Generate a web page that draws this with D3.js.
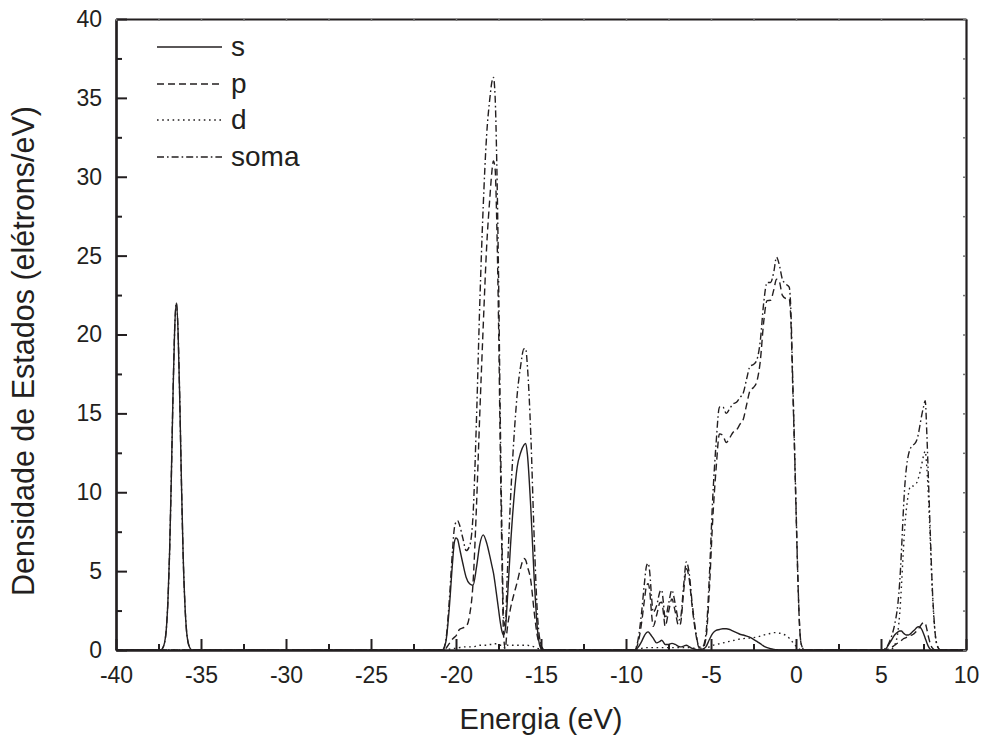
<html>

<head>
    <script src="https://cdn.jsdelivr.net/npm/d3@7"></script>
    <style>
        body {
            margin: 0;
            background: white;
            font-family: "Liberation Sans", Arial, Helvetica, sans-serif;
        }
    </style>
</head>

<body>
    <svg id="DosChart"></svg>
</body>
<script>
    // energia (eV) - grade comum para todas as curvas
    let energia = [
        -40,
        -37.35, -37.25, -37.15, -37.05, -36.95, -36.85, -36.75, -36.65, -36.55, -36.45,
        -36.35, -36.25, -36.15, -36.05, -35.95, -35.85, -35.75, -35.65, -35.55,
        -20.8, -20.6, -20.4, -20.2, -20.1, -20.0, -19.9, -19.8, -19.6, -19.4,
        -19.2, -19.0, -18.8, -18.6, -18.4, -18.2, -18.0, -17.9, -17.8, -17.7,
        -17.6, -17.5, -17.4, -17.3, -17.2, -17.1, -17.0, -16.8, -16.6, -16.4,
        -16.2, -16.0, -15.9, -15.8, -15.6, -15.4, -15.2, -15.0, -14.8,
        -9.5, -9.3, -9.1, -8.9, -8.8, -8.7, -8.6, -8.5, -8.4, -8.2,
        -8.0, -7.9, -7.8, -7.7, -7.5, -7.3, -7.1, -6.9, -6.8, -6.6,
        -6.45, -6.3, -6.1, -5.9, -5.7, -5.5, -5.3, -5.1, -4.9, -4.7,
        -4.5, -4.3, -4.1, -3.9, -3.7, -3.5, -3.3, -3.1, -2.9, -2.7,
        -2.5, -2.3, -2.1, -1.9, -1.7, -1.5, -1.3, -1.15, -1.0, -0.8,
        -0.6, -0.4, -0.3, -0.2, -0.1, 0.0, 0.1, 0.2, 0.3, 0.5,
        5.0, 5.2, 5.4, 5.6, 5.8, 6.0, 6.1, 6.2, 6.3, 6.4,
        6.5, 6.6, 6.7, 6.8, 6.9, 7.0, 7.1, 7.2, 7.3, 7.4,
        7.5, 7.6, 7.7, 7.8, 7.9, 8.0, 8.1, 8.2, 8.3, 8.5,
        10
    ];

    let dosS = [
        0,
        0, 0.13, 0.43, 1.2, 3.0, 6.1, 10.7, 16.0, 20.3, 22.0,
        20.2, 15.9, 10.6, 6.0, 3.0, 1.2, 0.43, 0.13, 0,
        0, 0.5, 2.6, 5.6, 6.8, 7.1, 7.0, 6.5, 5.5, 4.6,
        4.2, 4.1, 5.2, 6.7, 7.3, 6.8, 5.9, 5.4, 4.9, 4.2,
        3.4, 2.6, 1.8, 1.2, 0.95, 1.3, 2.8, 6.5, 9.5, 11.6,
        12.5, 13.0, 13.1, 12.4, 9.0, 4.5, 1.2, 0.1, 0,
        0, 0.15, 0.5, 0.95, 1.1, 1.15, 1.05, 0.9, 0.75, 0.45,
        0.55, 0.62, 0.5, 0.35, 0.35, 0.42, 0.35, 0.22, 0.2, 0.25,
        0.3, 0.22, 0.1, 0.04, 0, 0.05, 0.2, 0.65, 1.05, 1.25,
        1.3, 1.35, 1.35, 1.3, 1.2, 1.1, 1.0, 0.95, 0.88, 0.8,
        0.68, 0.55, 0.4, 0.25, 0.15, 0.08, 0.04, 0.02, 0, 0,
        0, 0, 0, 0, 0, 0, 0, 0, 0, 0,
        0, 0, 0.25, 0.6, 0.95, 1.15, 1.2, 1.2, 1.1, 1.0,
        0.95, 0.95, 1.0, 1.1, 1.2, 1.3, 1.42, 1.48, 1.45, 1.3,
        1.05, 0.75, 0.45, 0.2, 0.05, 0, 0, 0, 0, 0,
        0
    ];

    let dosP = [
        0,
        0, 0, 0, 0, 0, 0, 0, 0, 0, 0,
        0, 0, 0, 0, 0, 0, 0, 0, 0,
        0, 0.1, 0.4, 0.7, 0.8, 0.9, 1.1, 1.3, 1.4, 1.5,
        2.2, 4.2, 9.0, 15.0, 20.5, 25.5, 28.8, 30.2, 31.0, 30.5,
        27.0, 21.0, 13.0, 6.0, 0.9, 0.1, 1.2, 2.6, 3.5, 4.3,
        5.2, 5.8, 5.7, 5.3, 4.4, 2.4, 0.8, 0.2, 0,
        0, 0.4, 1.6, 3.3, 4.05, 4.2, 3.7, 2.35, 1.5, 2.2,
        3.0, 3.03, 2.35, 1.5, 2.4, 3.23, 2.4, 1.53, 1.65, 3.8,
        5.15, 4.63, 2.68, 1.06, 0.15, 0.1, 0.7, 3.75, 8.25, 11.5,
        13.7, 13.6, 13.15, 13.45, 13.8, 13.95, 14.3, 14.63, 15.57, 16.45,
        16.64, 17.03, 18.32, 20.8, 22.15, 22.17, 22.86, 23.5, 23.42, 22.48,
        22.28, 22.25, 20.85, 17.0, 13.15, 8.95, 4.88, 1.75, 0.4, 0,
        0, 0, 0.05, 0.15, 0.3, 0.45, 0.5, 0.6, 0.7, 0.75,
        0.8, 0.85, 0.9, 0.95, 1.0, 1.1, 1.2, 1.35, 1.5, 1.65,
        1.75, 1.7, 1.3, 0.8, 0.4, 0.15, 0.05, 0, 0, 0,
        0
    ];

    let dosD = [
        0,
        0, 0, 0, 0, 0, 0, 0, 0, 0, 0,
        0, 0, 0, 0, 0, 0, 0, 0, 0,
        0, 0, 0.05, 0.1, 0.1, 0.1, 0.1, 0.15, 0.2, 0.2,
        0.2, 0.2, 0.25, 0.3, 0.3, 0.3, 0.35, 0.35, 0.4, 0.4,
        0.4, 0.35, 0.3, 0.3, 0.2, 0.1, 0.3, 0.3, 0.3, 0.3,
        0.3, 0.3, 0.3, 0.3, 0.25, 0.2, 0.1, 0.05, 0,
        0, 0.05, 0.1, 0.15, 0.15, 0.15, 0.15, 0.15, 0.15, 0.15,
        0.15, 0.15, 0.15, 0.15, 0.15, 0.15, 0.15, 0.15, 0.15, 0.15,
        0.15, 0.15, 0.12, 0.1, 0.05, 0.05, 0.1, 0.2, 0.3, 0.35,
        0.4, 0.45, 0.5, 0.55, 0.6, 0.65, 0.7, 0.72, 0.75, 0.75,
        0.78, 0.82, 0.88, 0.95, 1.0, 1.05, 1.1, 1.1, 1.08, 1.02,
        0.92, 0.75, 0.65, 0.5, 0.35, 0.25, 0.12, 0.05, 0, 0,
        0, 0, 0, 0.05, 0.3, 1.2, 2.3, 4.0, 6.0, 7.8,
        9.0, 9.8, 10.3, 10.4, 10.4, 10.5, 10.6, 10.9, 11.3, 11.8,
        12.3, 12.6, 11.5, 9.5, 6.9, 4.2, 2.2, 0.9, 0.3, 0,
        0
    ];

    let dosSoma = [
        0,
        0, 0.13, 0.43, 1.2, 3.0, 6.1, 10.7, 16.0, 20.3, 22.0,
        20.2, 15.9, 10.6, 6.0, 3.0, 1.2, 0.43, 0.13, 0,
        0, 0.6, 3.05, 6.4, 7.7, 8.1, 8.2, 7.95, 7.1, 6.3,
        6.6, 8.5, 14.45, 22.0, 28.1, 32.6, 35.05, 35.95, 36.3, 35.1,
        30.8, 23.95, 15.1, 7.5, 2.05, 1.5, 4.3, 9.4, 13.3, 16.2,
        18.0, 19.1, 19.1, 18.0, 13.65, 7.1, 2.1, 0.35, 0,
        0, 0.6, 2.2, 4.4, 5.3, 5.5, 4.9, 3.4, 2.4, 2.8,
        3.7, 3.8, 3.0, 2.0, 2.9, 3.8, 2.9, 1.9, 2.0, 4.2,
        5.6, 5.0, 2.9, 1.2, 0.2, 0.2, 1.0, 4.6, 9.6, 13.1,
        15.4, 15.4, 15.0, 15.3, 15.6, 15.7, 16.0, 16.3, 17.2, 18.0,
        18.1, 18.4, 19.6, 22.0, 23.3, 23.3, 24.0, 24.9, 24.5, 23.5,
        23.2, 23.0, 21.5, 17.5, 13.5, 9.2, 5.0, 1.8, 0.4, 0,
        0, 0.05, 0.3, 0.8, 1.6, 3.0, 4.3, 6.2, 8.5, 10.4,
        11.6, 12.3, 12.7, 12.9, 13.0, 13.1, 13.3, 13.7, 14.3, 14.9,
        15.4, 15.8, 13.6, 10.5, 7.4, 4.4, 2.3, 0.9, 0.3, 0,
        0
    ];

    let seriesNames = ["s", "p", "d", "soma"];
    let xTicks = [-40, -35, -30, -25, -20, -15, -10, -5, 0, 5, 10];
    let yTicks = [0, 5, 10, 15, 20, 25, 30, 35, 40];

    function getConfig() {
        let width = 981;
        let height = 740;
        let margin = {
            top: 19,
            bottom: 90,
            left: 116,
            right: 15
        }
        let bodyHeight = height - margin.top - margin.bottom;
        let bodyWidth = width - margin.left - margin.right;

        let container = d3.select('#DosChart');
        container
            .attr("width", width)
            .attr("height", height)

        return { width, height, margin, bodyHeight, bodyWidth, container }
    }

    function getScales(config) {
        let { bodyWidth, bodyHeight } = config;
        let xScale = d3.scaleLinear()
            .range([0, bodyWidth])
            .domain([-40, 10]);
        let yScale = d3.scaleLinear()
            .range([bodyHeight, 0])
            .domain([0, 40]);
        return { xScale, yScale }
    }

    let lineStyles = {
        s: null,
        p: "7,4",
        d: "1.6,3.6",
        soma: "7,3,1.6,3"
    }

    function drawLines(scales, config) {
        let { container, margin } = config;
        let { xScale, yScale } = scales;
        let values = { s: dosS, p: dosP, d: dosD, soma: dosSoma };

        let body = container.append("g")
            .attr("transform", `translate(${margin.left},${margin.top})`);

        let line = d3.line()
            .x(d => xScale(d[0]))
            .y(d => yScale(d[1]))
            .curve(d3.curveMonotoneX);

        seriesNames.forEach(name => {
            let pts = energia.map((e, i) => [e, values[name][i]]);
            body.append("path")
                .datum(pts)
                .attr("fill", "none")
                .attr("stroke", "#231f20")
                .attr("stroke-width", 1.4)
                .attr("stroke-dasharray", lineStyles[name])
                .attr("d", line);
        });
    }

    function drawAxes(scales, config) {
        let { xScale, yScale } = scales;
        let { container, margin, bodyHeight, bodyWidth, width, height } = config;
        let fmt = d => String(d);

        let minorX = d3.range(-37.5, 10, 5);
        let minorY = d3.range(2.5, 40, 5);

        // eixo inferior
        container.append("g")
            .attr("transform", `translate(${margin.left},${margin.top + bodyHeight})`)
            .call(d3.axisBottom(xScale).tickValues(xTicks).tickFormat(fmt)
                .tickSizeInner(-11).tickSizeOuter(0).tickPadding(17));
        container.append("g")
            .attr("transform", `translate(${margin.left},${margin.top + bodyHeight})`)
            .call(d3.axisBottom(xScale).tickValues(minorX).tickFormat("")
                .tickSizeInner(-6).tickSizeOuter(0));

        // eixo esquerdo
        container.append("g")
            .attr("transform", `translate(${margin.left},${margin.top})`)
            .call(d3.axisLeft(yScale).tickValues(yTicks).tickFormat(fmt)
                .tickSizeInner(-11).tickSizeOuter(0).tickPadding(14));
        container.append("g")
            .attr("transform", `translate(${margin.left},${margin.top})`)
            .call(d3.axisLeft(yScale).tickValues(minorY).tickFormat("")
                .tickSizeInner(-6).tickSizeOuter(0));

        // eixo superior e direito, com marcas pequenas
        container.append("g")
            .attr("class", "faint")
            .attr("transform", `translate(${margin.left},${margin.top})`)
            .call(d3.axisTop(xScale).tickValues(xTicks.concat(minorX)).tickFormat("")
                .tickSizeInner(-2).tickSizeOuter(0));
        container.append("g")
            .attr("class", "faint")
            .attr("transform", `translate(${margin.left + bodyWidth},${margin.top})`)
            .call(d3.axisRight(yScale).tickValues(yTicks.concat(minorY)).tickFormat("")
                .tickSizeInner(-3).tickSizeOuter(0));

        container.selectAll(".domain")
            .attr("stroke", "#231f20")
            .attr("stroke-width", 2.2);
        container.selectAll(".tick line")
            .attr("stroke", "#231f20")
            .attr("stroke-width", 2);
        container.selectAll(".faint .tick line")
            .attr("stroke", "#777")
            .attr("stroke-width", 1.5);
        container.selectAll(".tick text")
            .attr("fill", "#231f20")
            .style("font-family", '"Liberation Sans", Arial, sans-serif')
            .style("font-size", "23px");

        container.append("text")
            .attr("x", margin.left + bodyWidth / 2)
            .attr("y", 729)
            .attr("text-anchor", "middle")
            .attr("fill", "#231f20")
            .style("font-size", "29px")
            .text("Energia (eV)");

        container.append("text")
            .attr("transform", `translate(34,351) rotate(-90)`)
            .attr("text-anchor", "middle")
            .attr("fill", "#231f20")
            .style("font-size", "30.5px")
            .text("Densidade de Estados (elétrons/eV)");
    }

    function drawLegend(config) {
        let { container } = config;
        let legend = container.selectAll(".legend")
            .data(seriesNames)
            .enter().append("g")
            .attr("class", "legend")
            .attr("transform", (d, i) => `translate(157,${[47, 84, 120, 157][i]})`);

        legend.append("line")
            .attr("x1", 0)
            .attr("x2", 65)
            .attr("stroke", "#231f20")
            .attr("stroke-width", 1.4)
            .attr("stroke-dasharray", d => lineStyles[d]);

        legend.append("text")
            .attr("x", 74)
            .attr("y", 9)
            .attr("fill", "#231f20")
            .style("font-size", "28px")
            .text(d => d);
    }

    function showData() {
        let config = getConfig();
        let scales = getScales(config);
        drawLines(scales, config);
        drawAxes(scales, config);
        drawLegend(config);
    }
    showData();
</script>
</html>
